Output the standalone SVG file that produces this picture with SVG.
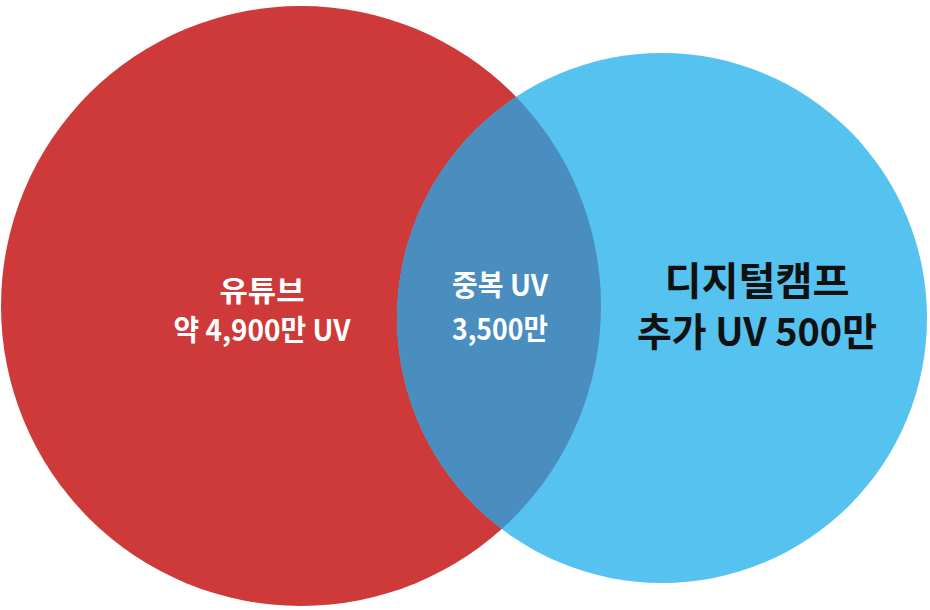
<svg xmlns="http://www.w3.org/2000/svg" width="930" height="610" viewBox="0 0 930 610">
<defs>
<style>
.t{font-family:"Noto Sans CJK KR","Noto Sans",sans-serif;font-weight:700;text-anchor:middle}
.w{fill:#ffffff;font-size:29px}
.k{fill:#111111;font-size:39px}
</style>
<clipPath id="redClip"><circle cx="301" cy="306" r="300"/></clipPath>
</defs>
<rect width="930" height="610" fill="#ffffff"/>
<g id="youtube">
<circle cx="301" cy="306" r="300" fill="#CE3A3A"/>
</g>
<g id="digitalcamp">
<circle cx="662" cy="318" r="265" fill="#56C2F0"/>
</g>
<g id="overlap">
<circle cx="662" cy="318" r="265" fill="#4A8DBF" clip-path="url(#redClip)"/>
</g>
<g id="labels">
<text class="t w" x="262" y="302" textLength="85" lengthAdjust="spacingAndGlyphs">유튜브</text>
<text class="t w" x="262" y="341" textLength="177" lengthAdjust="spacingAndGlyphs">약 4,900만 UV</text>
<text class="t w" x="500" y="296" textLength="96" lengthAdjust="spacingAndGlyphs">중복 UV</text>
<text class="t w" x="500" y="340" textLength="96" lengthAdjust="spacingAndGlyphs">3,500만</text>
<text class="t k" x="757" y="295" textLength="185" lengthAdjust="spacingAndGlyphs">디지털캠프</text>
<text class="t k" x="757" y="346" textLength="240" lengthAdjust="spacingAndGlyphs">추가 UV 500만</text>
</g>
</svg>
